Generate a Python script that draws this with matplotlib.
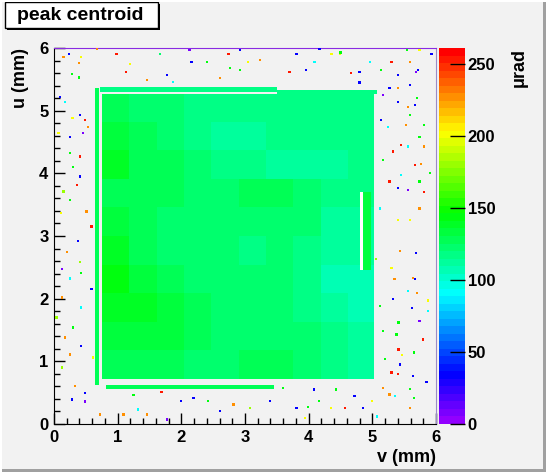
import colorsys
import numpy as np
import matplotlib
matplotlib.use("Agg")
import matplotlib.pyplot as plt
from matplotlib.colors import ListedColormap, Normalize
from matplotlib.patches import Rectangle

# centroid map over the crystal face, coarse cells
v_edges = [0.75, 1.18, 1.61, 2.04, 2.47, 2.90, 3.33, 3.76, 4.19, 4.62, 5.03]
u_edges = [0.72, 1.18, 1.63, 2.09, 2.54, 3.00, 3.46, 3.91, 4.37, 4.82, 5.27]
centroid = [
    [128, 128, 126, 124, 123, 126, 130, 125, 118, 114],
    [132, 134, 134, 130, 124, 121, 124, 122, 115, 112],
    [138, 136, 133, 126, 124, 122, 123, 118, 110, 108],
    [142, 134, 128, 124, 123, 122, 122, 118, 108, 108],
    [136, 128, 125, 123, 122, 120, 122, 120, 114, 110],
    [132, 126, 125, 124, 123, 121, 122, 122, 112, 110],
    [130, 128, 126, 125, 124, 126, 128, 124, 118, 116],
    [137, 130, 126, 124, 118, 115, 113, 110, 110, 115],
    [133, 128, 124, 118, 113, 114, 116, 118, 115, 118],
    [126, 125, 122, 118, 116, 118, 120, 120, 118, 118],
]

# thin rims around the face (v0, v1, u0, u1, value)
rim_v0 = [0.65, 0.72, 0.82, 4.85, 3.50]
rim_v1 = [0.71, 3.50, 3.45, 4.98, 5.08]
rim_u0 = [0.62, 5.30, 0.56, 2.45, 5.27]
rim_u1 = [5.36, 5.37, 0.62, 3.70, 5.33]
rim_val = [126, 120, 128, 134, 118]

# empty slit near the right edge
gap_v = [4.80, 4.85]
gap_u = [2.45, 3.70]

# isolated noisy bins outside the face
noise_v = [0.15, 0.24, 0.39, 0.43, 0.28, 0.39, 0.67, 0.98, 1.13, 1.19, 1.66, 2.13,
           2.16, 2.40, 2.74, 2.92, 3.05, 2.76, 2.92, 3.24, 2.61, 1.77, 1.87, 1.46,
           0.09, 0.17, 0.29, 0.41, 0.49, 0.54, 0.07, 0.25, 0.46, 0.25, 0.41, 0.30,
           0.41, 0.36, 0.15, 0.25, 0.51, 0.59, 0.11,
           0.38, 0.20, 0.41, 0.12, 0.43, 0.25, 0.59, 0.12, 0.43, 0.04, 0.30, 0.17,
           0.43, 0.25, 0.61, 0.12, 0.33, 0.49, 0.28, 0.49, 1.09, 1.32, 1.46, 1.69,
           2.00, 1.77, 2.19, 2.42, 2.61, 2.82, 3.08, 3.39, 0.72, 1.25,
           4.17, 4.49, 4.50, 4.36, 3.81, 3.96, 4.09, 3.70, 4.96, 5.30, 5.59, 5.74,
           5.55, 5.93, 4.80, 5.14, 5.40, 5.69, 5.72, 4.67, 5.40, 5.59, 5.27, 4.80,
           5.17, 5.67, 5.56, 5.70, 5.59, 5.40, 5.14, 5.25, 5.53, 5.81, 5.74, 5.45,
           5.56, 5.81, 5.32, 5.17, 5.67, 5.77, 5.45, 5.74, 5.27, 5.40, 5.56, 5.81,
           5.12, 5.40, 5.59, 5.74, 5.90,
           5.06, 5.30, 5.35, 5.43, 5.69, 5.64, 5.67, 5.56, 5.70, 5.32, 5.88, 5.12,
           5.62, 5.74, 5.41, 5.88, 5.17, 5.38, 5.80, 5.41, 5.47, 5.66, 5.20, 5.43,
           5.30, 5.40, 5.64, 5.85, 5.17, 5.59, 5.27, 5.66, 5.59, 5.00, 4.72, 4.85,
           4.43, 4.57, 4.08, 4.16, 4.35, 3.81, 3.60, 3.99, 5.07, 5.36, 3.94]
noise_u = [5.86, 5.91, 5.76, 5.86, 5.58, 5.53, 5.98, 5.91, 5.62, 5.75, 5.91, 5.97,
           5.78, 5.78, 5.91, 5.97, 5.78, 5.68, 5.65, 5.81, 5.52, 5.57, 5.46, 5.49,
           5.22, 5.14, 4.88, 4.93, 4.85, 4.74, 4.64, 4.58, 4.64, 4.32, 4.27, 4.10,
           3.95, 3.81, 3.71, 3.57, 3.39, 3.15, 3.37,
           2.92, 2.74, 2.58, 2.47, 2.41, 2.32, 2.15, 2.02, 1.86, 1.70, 1.54, 1.38,
           1.24, 1.11, 1.06, 0.90, 0.61, 0.50, 0.39, 0.36, 0.15, 0.23, 0.15, 0.51,
           0.37, 0.07, 0.42, 0.37, 0.21, 0.31, 0.26, 0.37, 0.15, 0.46,
           5.98, 5.91, 5.93, 5.91, 5.91, 5.65, 5.78, 5.62, 5.78, 5.78, 5.78, 5.97,
           5.97, 5.91, 5.62, 5.65, 5.57, 5.62, 5.65, 5.60, 5.36, 5.41, 5.36, 5.45,
           5.25, 5.09, 5.06, 5.20, 4.93, 5.14, 4.85, 4.74, 4.77, 4.77, 4.58, 4.45,
           4.43, 4.43, 4.35, 4.21, 4.13, 4.15, 3.97, 3.87, 3.87, 3.76, 3.73, 3.70,
           3.44, 3.25, 3.25, 3.44, 4.00,
           2.63, 2.49, 2.31, 2.76, 2.73, 2.33, 2.31, 2.12, 2.09, 1.99, 1.97, 1.88,
           1.85, 1.64, 1.62, 1.80, 1.48, 1.43, 1.35, 1.19, 1.10, 1.14, 1.04, 0.95,
           0.82, 0.80, 0.77, 0.67, 0.58, 0.56, 0.47, 0.42, 0.26, 0.37, 0.45, 0.26,
           0.55, 0.26, 0.55, 0.37, 0.26, 0.26, 0.58, 0.27, 0.12, 0.45, 0.10]
noise_val = [228, 35, 228, 200, 145, 145, 228, 255, 255, 200, 122, 8,
             35, 145, 255, 35, 200, 145, 145, 228, 228, 35, 92, 228,
             35, 92, 200, 35, 255, 228, 200, 35, 8, 145, 255, 145,
             35, 255, 178, 145, 228, 255, 200,
             35, 228, 178, 8, 145, 92, 35, 228, 92, 178, 145, 228,
             35, 228, 200, 178, 228, 35, 35, 8, 228, 92, 228, 255,
             35, 8, 35, 145, 35, 228, 178, 35, 228, 145,
             35, 200, 145, 200, 35, 35, 92, 255, 92, 255, 228, 200,
             145, 35, 35, 145, 35, 8, 35, 255, 228, 35, 35, 35,
             8, 35, 228, 145, 145, 35, 35, 92, 228, 145, 145, 255,
             92, 228, 255, 145, 255, 228, 92, 145, 255, 35, 8, 255,
             92, 200, 200, 228, 145,
             178, 200, 228, 228, 35, 228, 35, 92, 228, 35, 200, 145,
             35, 8, 145, 92, 145, 145, 255, 255, 200, 145, 145, 35,
             255, 255, 35, 35, 228, 145, 228, 145, 228, 200, 35, 35,
             145, 255, 35, 145, 200, 35, 145, 145, 92, 92, 200]

v_ticks = [0, 1, 2, 3, 4, 5, 6]
u_ticks = [0, 1, 2, 3, 4, 5, 6]
z_ticks = [0, 50, 100, 150, 200, 250]
z_max = 261.1

# ROOT "pretty" palette: 50 hues from violet to red
palette = [colorsys.hls_to_rgb((280 - (i + 1) * 5.6) / 360.0, 0.5, 1.0) for i in range(50)]
cmap = ListedColormap(palette)
norm = Normalize(vmin=0, vmax=z_max)

plt.rcParams["font.family"] = ["Liberation Sans", "DejaVu Sans"]
plt.rcParams["font.weight"] = "bold"

bg = "#f2f2f2"
fig = plt.figure(figsize=(5.46, 4.72), dpi=100, facecolor=bg)
ax = fig.add_axes([54 / 546, 1 - 424 / 472, 382 / 546, 376 / 472])
cax = fig.add_axes([439 / 546, 1 - 424 / 472, 26 / 546, 376 / 472])
ax.set_facecolor(bg)

mesh = ax.pcolormesh(v_edges, u_edges, np.array(centroid, dtype=float), cmap=cmap, norm=norm)
for v0, v1, u0, u1, val in zip(rim_v0, rim_v1, rim_u0, rim_u1, rim_val):
    ax.pcolormesh([v0, v1], [u0, u1], [[val]], cmap=cmap, norm=norm)
ax.add_patch(Rectangle((gap_v[0], gap_u[0]), gap_v[1] - gap_v[0], gap_u[1] - gap_u[0],
                       facecolor="white", edgecolor="none", zorder=2))
ax.scatter(noise_v, noise_u, c=noise_val, cmap=cmap, norm=norm, marker="s", s=2.6,
           linewidths=0, zorder=3)

ax.set_xlim(0, 6)
ax.set_ylim(0, 6)
ax.set_xticks(v_ticks)
ax.set_yticks(u_ticks)
ax.set_xticks(np.arange(0, 6.01, 0.2), minor=True)
ax.set_yticks(np.arange(0, 6.01, 0.2), minor=True)
ax.tick_params(which="both", direction="in", top=False, right=False, width=1, colors="black")
ax.tick_params(which="major", length=8, labelsize=12, pad=4)
ax.tick_params(which="minor", length=4)
for lab in ax.get_xticklabels() + ax.get_yticklabels():
    lab.set_fontweight("bold")
ax.spines["left"].set_color("black")
ax.spines["bottom"].set_color("black")
ax.spines["top"].set_color("#8a2be2")
ax.spines["right"].set_color("#9a8ac8")

ax.text(-0.089, 1.0, "u (mm)", rotation=90, ha="center", va="top", fontsize=13,
        fontweight="bold", transform=ax.transAxes)
ax.text(1.0, -0.088, "v (mm)", ha="right", va="center", fontsize=13,
        fontweight="bold", transform=ax.transAxes)

cb = fig.colorbar(mesh, cax=cax)
cb.outline.set_visible(False)
cb.set_ticks(z_ticks)
cax.tick_params(direction="in", length=11, width=1, labelsize=12, pad=2)
for lab in cax.get_yticklabels():
    lab.set_fontweight("bold")
cax.text(3.1, 1.0, "\u03bcrad", rotation=90, ha="center", va="top", fontsize=13,
         fontweight="bold", transform=cax.transAxes)

# title pave with shadow
fig.add_artist(Rectangle((7 / 546, 1 - 30 / 472), 153 / 546, 26 / 472, transform=fig.transFigure,
                         facecolor="black", edgecolor="none"))
fig.add_artist(Rectangle((5 / 546, 1 - 28 / 472), 153 / 546, 26 / 472, transform=fig.transFigure,
                         facecolor="white", edgecolor="black", linewidth=1))
fig.text(17 / 546, 1 - 15 / 472, "peak centroid", ha="left", va="center", fontsize=14,
         fontweight="bold")

# canvas bevel
fig.add_artist(Rectangle((543 / 546, 0), 3 / 546, 1, transform=fig.transFigure,
                         facecolor="#a0a0a0", edgecolor="none"))
fig.add_artist(Rectangle((0, 0), 1, 3 / 472, transform=fig.transFigure,
                         facecolor="#a0a0a0", edgecolor="none"))
fig.add_artist(Rectangle((0, 0), 2 / 546, 1, transform=fig.transFigure,
                         facecolor="white", edgecolor="none"))
fig.add_artist(Rectangle((0, 1 - 2 / 472), 1, 2 / 472, transform=fig.transFigure,
                         facecolor="white", edgecolor="none"))

fig.savefig("out.png", dpi=100, facecolor=bg)
